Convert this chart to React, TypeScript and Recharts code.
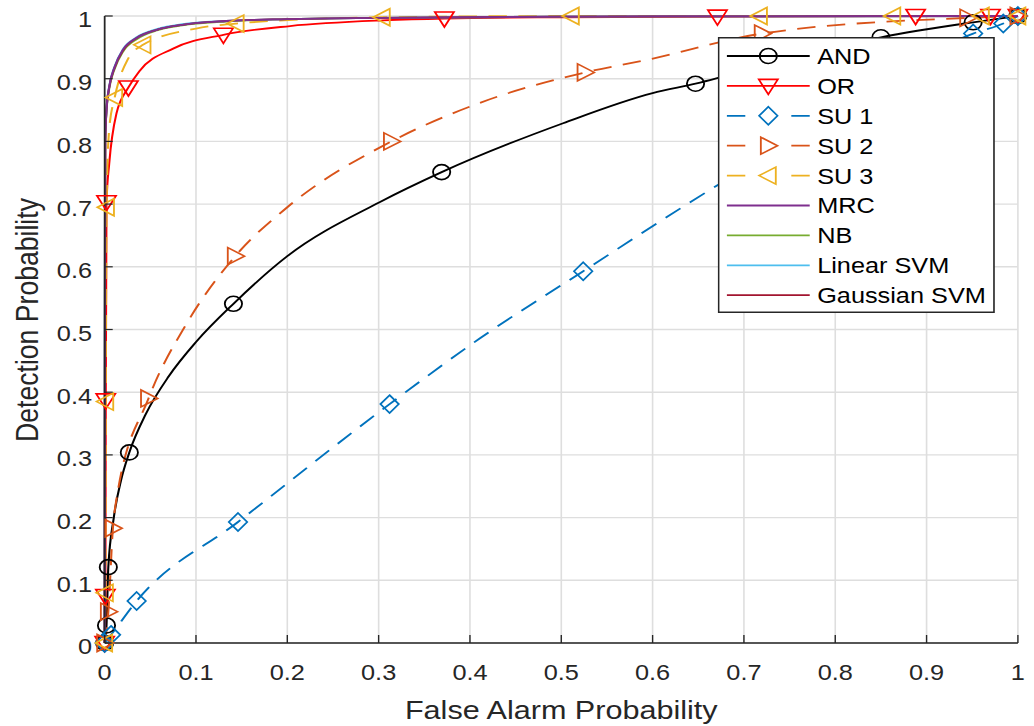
import React from 'react';
import { LineChart, Line, XAxis, YAxis, CartesianGrid, Legend } from 'recharts';

// the reference is a horizontally stretched MATLAB figure, so draw narrow and scale in x
const W = 899;
const H = 726;
const SX = 1034 / W;

const FONT = '"Liberation Sans", Arial, Helvetica, sans-serif';
const INK = '#262626';

const TICKS = [0, 0.1, 0.2, 0.3, 0.4, 0.5, 0.6, 0.7, 0.8, 0.9, 1];
const TICK_LABELS = ['0', '0.1', '0.2', '0.3', '0.4', '0.5', '0.6', '0.7', '0.8', '0.9', '1'];

type Pt = [number, number];

// [false alarm, detection]
const AND_CURVE: Pt[] = [
  [0, 0], [0.002, 0.028], [0.004, 0.121], [0.01, 0.2], [0.018, 0.26], [0.027, 0.304],
  [0.045, 0.365], [0.07, 0.425], [0.1, 0.48], [0.141, 0.541], [0.2, 0.617], [0.301, 0.703],
  [0.369, 0.751], [0.502, 0.829], [0.6, 0.877], [0.647, 0.892], [0.75, 0.932], [0.85, 0.966],
  [0.951, 0.99], [0.99, 0.998], [1, 1],
];
const AND_MARKS: Pt[] = [
  [0, 0], [0.002, 0.028], [0.004, 0.121], [0.027, 0.304], [0.141, 0.541], [0.369, 0.751],
  [0.647, 0.892], [0.85, 0.966], [0.951, 0.99], [1, 1],
];

const OR_CURVE: Pt[] = [
  [0, 0], [0.0008, 0.075], [0.0012, 0.387], [0.002, 0.703], [0.005, 0.765], [0.013, 0.845],
  [0.026, 0.886], [0.038, 0.912], [0.075, 0.948], [0.13, 0.97], [0.203, 0.984], [0.305, 0.993],
  [0.372, 0.996], [0.5, 0.998], [0.671, 0.999], [0.888, 1], [0.97, 1], [1, 1],
];
const OR_MARKS: Pt[] = [
  [0, 0], [0.0008, 0.075], [0.0012, 0.387], [0.002, 0.703], [0.026, 0.886], [0.13, 0.97],
  [0.372, 0.996], [0.671, 0.999], [0.888, 1], [0.97, 1], [1, 1],
];

const SU1_CURVE: Pt[] = [
  [0, 0], [0.007, 0.013], [0.035, 0.067], [0.146, 0.193], [0.312, 0.381], [0.411, 0.486],
  [0.524, 0.593], [0.671, 0.73], [0.74, 0.79], [0.951, 0.972], [0.984, 0.988], [1, 1],
];
const SU1_MARKS: Pt[] = [
  [0, 0], [0.007, 0.013], [0.035, 0.067], [0.146, 0.193], [0.312, 0.381], [0.524, 0.593],
  [0.74, 0.79], [0.951, 0.972], [0.984, 0.988], [1, 1],
];

const SU2_CURVE: Pt[] = [
  [0, 0], [0.004, 0.05], [0.009, 0.183], [0.013, 0.23], [0.048, 0.39], [0.09, 0.51],
  [0.143, 0.617], [0.2, 0.695], [0.314, 0.8], [0.41, 0.861], [0.526, 0.91], [0.594, 0.93],
  [0.72, 0.972], [0.945, 0.997], [1, 1],
];
const SU2_MARKS: Pt[] = [
  [0, 0], [0.004, 0.05], [0.009, 0.183], [0.048, 0.39], [0.143, 0.617], [0.314, 0.8],
  [0.526, 0.91], [0.72, 0.972], [0.945, 0.997], [1, 1],
];

const SU3_CURVE: Pt[] = [
  [0, 0], [0.0008, 0.08], [0.0012, 0.385], [0.002, 0.695], [0.005, 0.82], [0.011, 0.87],
  [0.025, 0.93], [0.042, 0.954], [0.1, 0.98], [0.144, 0.988], [0.304, 0.998], [0.511, 1],
  [0.717, 1], [0.863, 1], [0.96, 1], [1, 1],
];
const SU3_MARKS: Pt[] = [
  [0, 0], [0.0008, 0.08], [0.0012, 0.385], [0.002, 0.695], [0.011, 0.87], [0.042, 0.954],
  [0.144, 0.988], [0.304, 0.998], [0.511, 1], [0.717, 1], [0.863, 1], [0.96, 1], [1, 1],
];

const MRC_CURVE: Pt[] = [
  [0, 0], [0.0002, 0.5], [0.0005, 0.8], [0.002, 0.85], [0.005, 0.887], [0.011, 0.919],
  [0.02, 0.946], [0.035, 0.965], [0.057, 0.978], [0.085, 0.986], [0.133, 0.992], [0.2, 0.995],
  [0.3, 0.997], [0.5, 0.999], [1, 1],
];
const NB_CURVE: Pt[] = [
  [0, 0], [0.0003, 0.5], [0.0006, 0.8], [0.002, 0.848], [0.005, 0.884], [0.011, 0.916],
  [0.02, 0.943], [0.035, 0.963], [0.057, 0.977], [0.085, 0.985], [0.133, 0.991], [0.2, 0.995],
  [0.3, 0.997], [0.5, 0.999], [1, 1],
];
const LSVM_CURVE: Pt[] = [
  [0, 0], [0.0002, 0.5], [0.0005, 0.8], [0.002, 0.852], [0.005, 0.888], [0.011, 0.92],
  [0.02, 0.947], [0.035, 0.966], [0.057, 0.979], [0.085, 0.987], [0.133, 0.992], [0.2, 0.995],
  [0.3, 0.997], [0.5, 0.999], [1, 1],
];
const GSVM_CURVE: Pt[] = [
  [0, 0], [0.0004, 0.5], [0.0007, 0.8], [0.002, 0.851], [0.005, 0.886], [0.011, 0.918],
  [0.02, 0.945], [0.035, 0.965], [0.057, 0.978], [0.085, 0.986], [0.133, 0.992], [0.2, 0.995],
  [0.3, 0.997], [0.5, 0.999], [1, 1],
];

type MarkerKind = 'o' | 'v' | 'd' | '>' | '<' | null;

interface Series {
  name: string;
  color: string;
  dashed: boolean;
  marker: MarkerKind;
  curve: Pt[];
  marks: Pt[];
}

const SERIES: Series[] = [
  { name: 'AND', color: '#000000', dashed: false, marker: 'o', curve: AND_CURVE, marks: AND_MARKS },
  { name: 'OR', color: '#ff0000', dashed: false, marker: 'v', curve: OR_CURVE, marks: OR_MARKS },
  { name: 'SU 1', color: '#0072bd', dashed: true, marker: 'd', curve: SU1_CURVE, marks: SU1_MARKS },
  { name: 'SU 2', color: '#d95319', dashed: true, marker: '>', curve: SU2_CURVE, marks: SU2_MARKS },
  { name: 'SU 3', color: '#edb120', dashed: true, marker: '<', curve: SU3_CURVE, marks: SU3_MARKS },
  { name: 'MRC', color: '#7e2f8e', dashed: false, marker: null, curve: MRC_CURVE, marks: [] },
  { name: 'NB', color: '#77ac30', dashed: false, marker: null, curve: NB_CURVE, marks: [] },
  { name: 'Linear SVM', color: '#4dbeee', dashed: false, marker: null, curve: LSVM_CURVE, marks: [] },
  { name: 'Gaussian SVM', color: '#a2142f', dashed: false, marker: null, curve: GSVM_CURVE, marks: [] },
];

// purple shows on top of the classifier bundle in the picture
const DRAW_ORDER = ['AND', 'OR', 'SU 1', 'SU 2', 'SU 3', 'NB', 'Linear SVM', 'Gaussian SVM', 'MRC'];

const toData = (pts: Pt[]) => pts.map(([x, y]) => ({ x, y }));
const label = (v: number) => TICK_LABELS[TICKS.indexOf(v)] ?? String(v);

const poly = (cx: number, cy: number, pts: number[][]) =>
  pts.map(([dx, dy]) => `${cx + dx},${cy + dy}`).join(' ');

function Marker({ kind, cx, cy, color }: { kind: MarkerKind; cx: number; cy: number; color: string }) {
  const st = { fill: 'none', stroke: color, strokeWidth: 1.6 };
  if (cx == null || cy == null) return <g />;
  switch (kind) {
    case 'o':
      return <circle cx={cx} cy={cy} r={7.5} {...st} />;
    case 'v':
      return <polygon points={poly(cx, cy, [[-8.3, -6.5], [8.3, -6.5], [0, 8.5]])} {...st} />;
    case 'd':
      return <polygon points={poly(cx, cy, [[0, -9], [8, 0], [0, 9], [-8, 0]])} {...st} />;
    case '>':
      return <polygon points={poly(cx, cy, [[-6.5, -8.5], [-6.5, 8.5], [8, 0]])} {...st} />;
    case '<':
      return <polygon points={poly(cx, cy, [[6.5, -8.5], [6.5, 8.5], [-8, 0]])} {...st} />;
    default:
      return <g />;
  }
}

const BottomTick = (p: any) => (
  <g>
    <line x1={p.x} x2={p.x} y1={p.y} y2={p.y - 8} stroke={INK} strokeWidth={1.2} />
    <text x={p.x} y={p.y + 37} textAnchor="middle" fontFamily={FONT} fontSize={22} fill={INK}>
      {label(p.payload.value)}
    </text>
  </g>
);
const TopTick = (p: any) => (
  <line x1={p.x} x2={p.x} y1={p.y} y2={p.y + 8} stroke={INK} strokeWidth={1.2} />
);
const LeftTick = (p: any) => (
  <g>
    <line x1={p.x} x2={p.x + 7} y1={p.y} y2={p.y} stroke={INK} strokeWidth={1.2} />
    <text x={p.x - 11} y={p.y + 11.5} textAnchor="end" fontFamily={FONT} fontSize={22} fill={INK}>
      {label(p.payload.value)}
    </text>
  </g>
);
const RightTick = (p: any) => (
  <line x1={p.x} x2={p.x - 7} y1={p.y} y2={p.y} stroke={INK} strokeWidth={1.2} />
);

const XLabel = () => (
  <text x={488} y={719} textAnchor="middle" fontFamily={FONT} fontSize={26.6} fill={INK}>
    False Alarm Probability
  </text>
);
const YLabel = () => (
  <text
    x={33}
    y={320}
    transform="rotate(-90, 33, 320)"
    textAnchor="middle"
    fontFamily={FONT}
    fontSize={26.6}
    fill={INK}
  >
    Detection Probability
  </text>
);

const LEG_W = 241;
const LEG_H = 276;

function LegendBox() {
  return (
    <svg width={LEG_W} height={LEG_H} style={{ display: 'block' }}>
      <rect x={0.75} y={0.75} width={LEG_W - 1.5} height={LEG_H - 1.5} fill="#ffffff" stroke={INK} strokeWidth={1.5} />
      {SERIES.map((s, i) => {
        const cy = 19 + i * 29.9;
        return (
          <g key={s.name}>
            {s.dashed ? (
              <>
                <line x1={8} x2={24} y1={cy} y2={cy} stroke={s.color} strokeWidth={1.8} />
                <line x1={64} x2={80} y1={cy} y2={cy} stroke={s.color} strokeWidth={1.8} />
              </>
            ) : (
              <line x1={8} x2={80} y1={cy} y2={cy} stroke={s.color} strokeWidth={1.8} />
            )}
            {s.marker && <Marker kind={s.marker} cx={44} cy={cy} color={s.color} />}
            <text x={86.5} y={cy + 8} fontFamily={FONT} fontSize={22} fill="#000000">
              {s.name}
            </text>
          </g>
        );
      })}
    </svg>
  );
}

export default function App() {
  const ordered = DRAW_ORDER.map((n) => SERIES.find((s) => s.name === n)!);
  return (
    <div
      style={{
        position: 'absolute',
        left: 0,
        top: 0,
        width: W,
        height: H,
        background: '#ffffff',
        transform: `scaleX(${SX})`,
        transformOrigin: '0 0',
      }}
    >
      <LineChart width={W} height={H} margin={{ top: 16, right: 14, bottom: 0, left: 0 }}>
        <CartesianGrid xAxisId="b" yAxisId="l" stroke="#dedede" strokeWidth={1.4} />
        <XAxis
          xAxisId="b"
          type="number"
          dataKey="x"
          domain={[0, 1]}
          ticks={TICKS}
          interval={0}
          height={83}
          tickSize={0}
          tickMargin={0}
          tickLine={false}
          axisLine={{ stroke: INK, strokeWidth: 1.5 }}
          tick={<BottomTick />}
          label={<XLabel />}
        />
        <XAxis
          xAxisId="t"
          orientation="top"
          type="number"
          dataKey="x"
          domain={[0, 1]}
          allowDataOverflow
          ticks={TICKS}
          interval={0}
          height={0}
          tickSize={0}
          tickMargin={0}
          tickLine={false}
          axisLine={{ stroke: INK, strokeWidth: 1.5 }}
          tick={<TopTick />}
        />
        <YAxis
          yAxisId="l"
          type="number"
          dataKey="y"
          domain={[0, 1]}
          ticks={TICKS}
          interval={0}
          width={91}
          tickSize={0}
          tickMargin={0}
          tickLine={false}
          axisLine={{ stroke: INK, strokeWidth: 1.5 }}
          tick={<LeftTick />}
          label={<YLabel />}
        />
        <YAxis
          yAxisId="r"
          orientation="right"
          type="number"
          dataKey="y"
          domain={[0, 1]}
          allowDataOverflow
          ticks={TICKS}
          interval={0}
          width={0}
          tickSize={0}
          tickMargin={0}
          tickLine={false}
          axisLine={{ stroke: INK, strokeWidth: 1.5 }}
          tick={<RightTick />}
        />
        {ordered.map((s) => (
          <Line
            key={s.name}
            name={s.name}
            xAxisId="b"
            yAxisId="l"
            data={toData(s.curve)}
            dataKey="y"
            type="monotone"
            stroke={s.color}
            strokeWidth={1.8}
            strokeDasharray={s.dashed ? '16 10' : undefined}
            dot={false}
            activeDot={false}
            isAnimationActive={false}
          />
        ))}
        {ordered
          .filter((s) => s.marker)
          .map((s) => (
            <Line
              key={s.name + '-marks'}
              name={s.name + ' markers'}
              xAxisId="b"
              yAxisId="l"
              data={toData(s.marks)}
              dataKey="y"
              stroke="none"
              legendType="none"
              activeDot={false}
              isAnimationActive={false}
              dot={(p: any) => (
                <Marker key={`${s.name}-${p.index}`} kind={s.marker} cx={p.cx} cy={p.cy} color={s.color} />
              )}
            />
          ))}
        <Legend
          layout="vertical"
          align="center"
          verticalAlign="middle"
          wrapperStyle={{ left: 624, top: 37, width: LEG_W, height: LEG_H }}
          content={() => <LegendBox />}
        />
      </LineChart>
    </div>
  );
}
